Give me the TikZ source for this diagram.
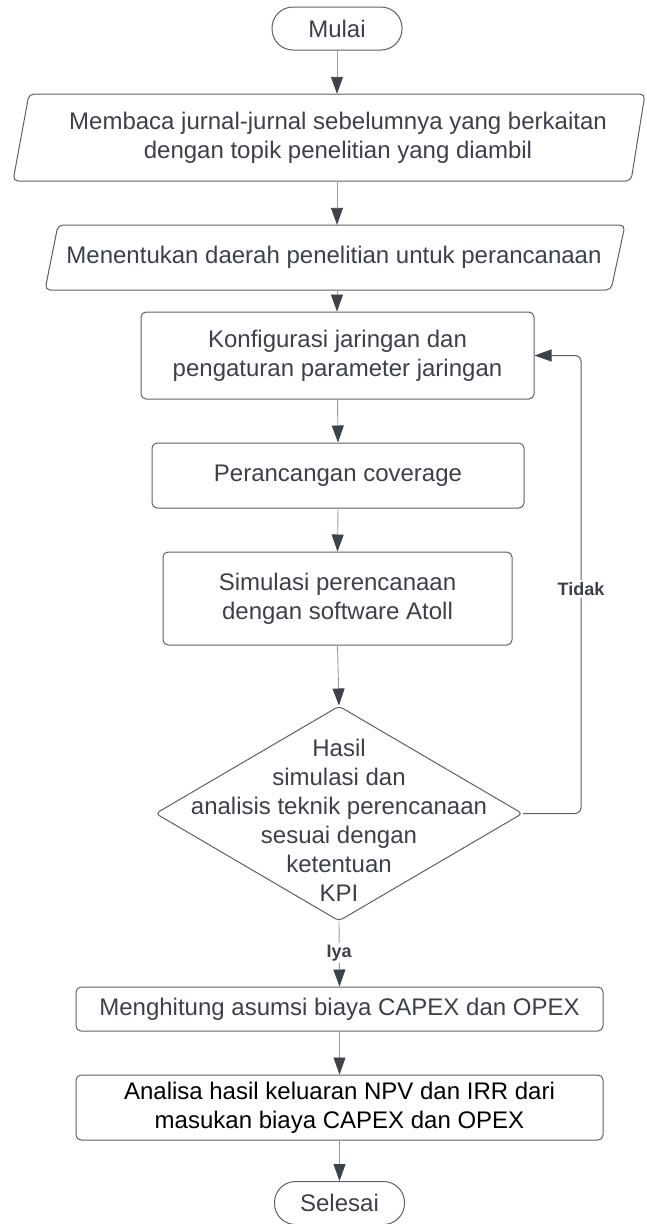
\documentclass[tikz,border=0pt]{standalone}
\usepackage{fontspec}
\setmainfont{Liberation Sans}
\usetikzlibrary{arrows.meta,shapes.geometric}
\definecolor{ln}{HTML}{5B6068}
\definecolor{tx}{HTML}{3B4049}
\definecolor{ah}{HTML}{3D434B}
\definecolor{cn}{HTML}{9A9A9A}
\tikzset{
  base/.style={font=\fontsize{24}{29}\selectfont, text=tx, align=center, inner sep=0pt},
  term/.style={base, draw=ln, line width=1pt, rounded corners=21pt, minimum width=130pt, minimum height=43pt},
  proc/.style={base, draw=ln, line width=1pt, rounded corners=5pt},
  ptext/.style={base},
  pline/.style={draw=ln, line width=1pt, rounded corners=5pt},
  dec/.style={diamond, draw=ln, line width=1pt, rounded corners=4pt, inner sep=0pt, minimum width=367pt, minimum height=215pt},
  arr/.style={draw=cn, line width=0.9pt, -{Triangle[length=17pt,width=12pt,fill=ah,color=ah]}},
  back/.style={draw=ln, line width=1pt, rounded corners=6pt, -{Triangle[length=17pt,width=12pt,fill=ah,color=ah]}},
  lbl/.style={font=\bfseries\fontsize{18}{20}\selectfont, text=tx, fill=white, inner sep=2pt}
}
\begin{document}
\begin{tikzpicture}[x=1pt,y=-1pt]
\useasboundingbox (0,0) rectangle (647,1224);
% terminals
\node[term] (mulai) at (337,28.5) {Mulai};
% parallelogram 1
\draw[pline] (29,94) -- (645,94) -- (631,181) -- (13,181) -- cycle;
\node[ptext, minimum width=600pt, minimum height=87pt] (p1) at (338,137.5) {Membaca jurnal-jurnal sebelumnya yang berkaitan\\dengan topik penelitian yang diambil};
% parallelogram 2
\draw[pline] (58,225) -- (625,225) -- (611,290) -- (45,290) -- cycle;
\node[ptext, minimum width=540pt, minimum height=65pt] (p2) at (334,257.5) {Menentukan daerah penelitian untuk perancanaan};
% processes
\node[proc, minimum width=393pt, minimum height=87pt] (konf) at (337.5,355.5) {Konfigurasi jaringan dan\\pengaturan parameter jaringan};
\node[proc, minimum width=372pt, minimum height=65pt] (peranc) at (338,475.5) {Perancangan coverage};
\node[proc, minimum width=349pt, minimum height=93pt] (sim) at (337.5,598.5) {Simulasi perencanaan\\dengan software Atoll};
\node[dec] (dec) at (339,813.5) {};
\node[base] (dectext) at (339,820) {Hasil\\simulasi dan\\analisis teknik perencanaan\\sesuai dengan\\ketentuan\\KPI};
\node[proc, minimum width=527pt, minimum height=44pt] (hit) at (339.5,1009) {Menghitung asumsi biaya CAPEX dan OPEX};
\node[proc, text=black, minimum width=527pt, minimum height=65pt] (ana) at (339.5,1107.5) {Analisa hasil keluaran NPV dan IRR dari\\masukan biaya CAPEX dan OPEX};
\node[term] (selesai) at (339.5,1203) {Selesai};
% connectors
\draw[arr] (mulai.south) -- (mulai.south |- p1.north);
\draw[arr] (mulai.south |- p1.south) -- (mulai.south |- p2.north);
\draw[arr] (mulai.south |- p2.south) -- (konf.north -| mulai.south);
\draw[arr] (konf.south) -- (peranc.north);
\draw[arr] (peranc.south) -- (sim.north);
\draw[arr] (sim.south) -- (dec.north);
\draw[arr] (dec.south) -- node[lbl, pos=0.48] {Iya} (hit.north);
\draw[arr] (hit.south) -- (ana.north);
\draw[arr] (ana.south) -- (selesai.north);
\coordinate (fb) at (581,0);
\draw[back] (dec.east) -- (dec.east -| fb) -- node[lbl, pos=0.49] {Tidak} (konf.east -| fb) -- (konf.east);
\end{tikzpicture}
\end{document}
